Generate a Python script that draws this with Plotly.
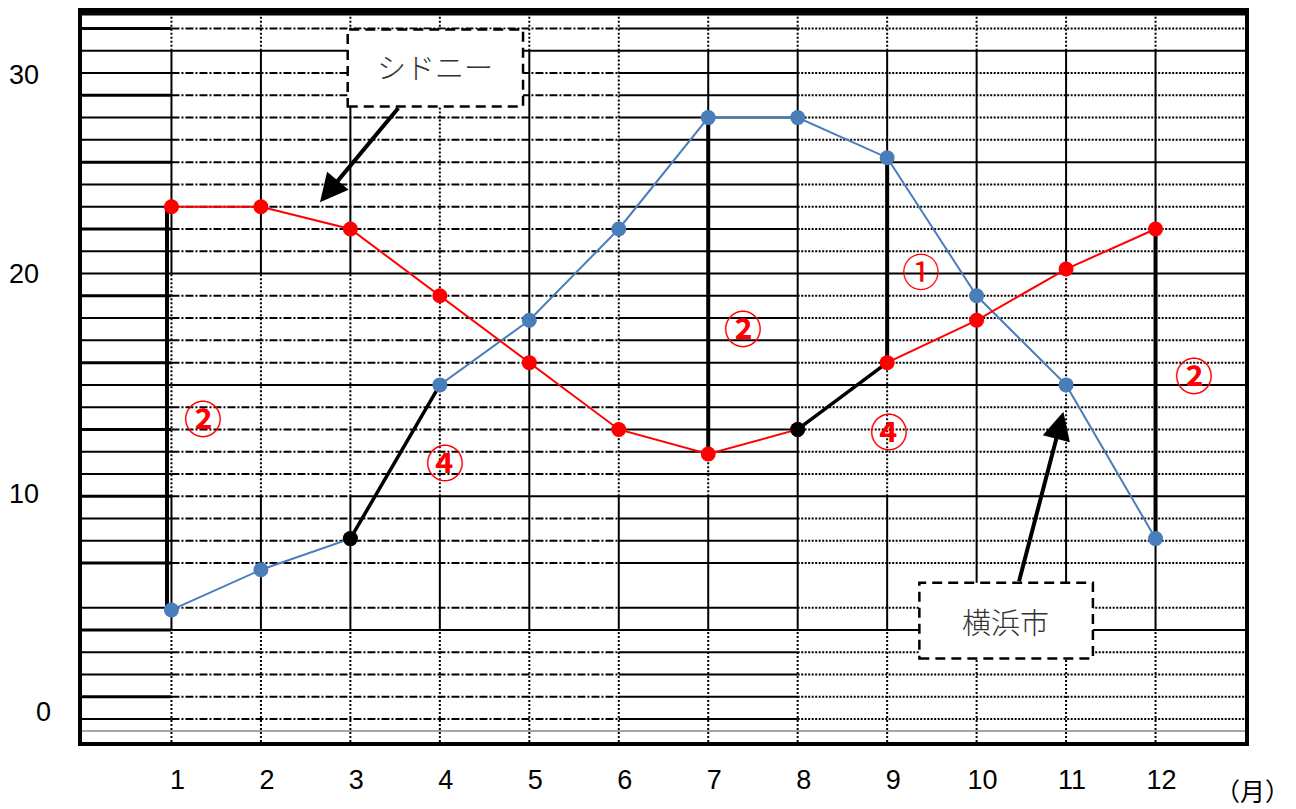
import plotly.graph_objects as go

# ---------------- data ----------------
months = list(range(1, 13))
month_labels = [str(m) for m in months]
sydney = [23.0, 23.0, 22.0, 19.0, 16.0, 13.0, 11.9, 13.0, 16.0, 17.9, 20.2, 22.0]
yokohama = [4.9, 6.7, 8.1, 15.0, 17.9, 22.0, 27.0, 27.0, 25.2, 19.0, 15.0, 8.1]
y_label_text = ["0", "10", "20", "30"]
y_label_val = [0.3, 10.1, 20.0, 28.9]
diff_months = [1, 7, 9, 12]          # months with vertical difference bars
yoko_black_seg = [3, 4]              # black segment on Yokohama line
syd_black_seg = [8, 9]               # black segment on Sydney line
note_texts = ["②", "④", "②", "①", "④", "②"]

# ---------------- styling ----------------
RED = "#ff0000"
BLUE = "#4a7ebb"
DASHDOT = "8px,2px,2px,2px"
DOT = "2px,1.5px"
VDOT = "2px,2px"
XR = [0, 13]
YR = [-1.03, 31.74]
LBL_FONT = "Liberation Sans, Arial, sans-serif"
JP_FONT = "Noto Sans CJK JP, sans-serif"

shapes = []


def hline(v, x0, x1, dash, width, color="black"):
    shapes.append(dict(type="line", xref="x", yref="y", x0=x0, x1=x1, y0=v, y1=v,
                       line=dict(color=color, width=width, dash=dash), layer="below"))


def vline(x, y0, y1, dash, width):
    shapes.append(dict(type="line", xref="x", yref="y", x0=x, x1=x, y0=y0, y1=y1,
                       line=dict(color="black", width=width, dash=dash), layer="below"))


grid_rows = [v for v in range(0, 32) if v != 6]
for v in grid_rows:
    hline(v, 0, 1, "solid", 3 if v % 3 == 1 else 2)
    if v in (30, 20, 15, 4):
        hline(v, 1, 13, "solid", 2)
    elif v == 10:
        hline(v, 1, 3, DASHDOT, 2)
        hline(v, 3, 13, "solid", 2)
    elif v == 25:
        hline(v, 1, 6, DASHDOT, 2)
        hline(v, 6, 13, "solid", 2)
    else:
        hline(v, 1, 6, DASHDOT, 2)
        hline(v, 6, 8, "solid", 2)
        hline(v, 8, 13, DOT, 2)

hline(-0.54, 0, 13, "solid", 1.5, color="#888888")

for m in months:
    vline(m, YR[0], 4, VDOT, 2)
    vline(m, 4, 10, "solid", 2)
    vline(m, 10, 20, "solid" if m in (5, 8, 10) else VDOT, 2)
    vline(m, 20, 30, "solid" if m not in (4, 6) else VDOT, 2)
    vline(m, 30, YR[1], VDOT, 2)

# top frame edge (plot top sits at the figure's top edge)
shapes.append(dict(type="line", xref="paper", yref="paper", x0=0, x1=1, y0=1, y1=1,
                   line=dict(color="black", width=7), layer="above"))

# label boxes
shapes.append(dict(type="rect", xref="x", yref="y", x0=2.97, x1=4.93, y0=27.5, y1=30.95,
                   fillcolor="white", line=dict(color="black", width=2.5, dash="10px,6px"),
                   layer="above"))
shapes.append(dict(type="rect", xref="x", yref="y", x0=9.36, x1=11.30, y0=2.72, y1=6.12,
                   fillcolor="white", line=dict(color="black", width=2.5, dash="10px,6px"),
                   layer="above"))

fig = go.Figure()

# vertical difference bars
dx, dy = [], []
for m in diff_months:
    off = -0.05 if m == 1 else 0.0
    dx += [m + off, m + off, None]
    dy += [sydney[m - 1], yokohama[m - 1], None]
fig.add_trace(go.Scatter(x=dx, y=dy, mode="lines", line=dict(color="black", width=4),
                         hoverinfo="skip", showlegend=False))

# series lines
fig.add_trace(go.Scatter(x=months, y=yokohama, mode="lines", line=dict(color=BLUE, width=2),
                         name="横浜市", showlegend=False))
fig.add_trace(go.Scatter(x=months, y=sydney, mode="lines", line=dict(color=RED, width=2),
                         name="シドニー", showlegend=False))

# black segments
bx = yoko_black_seg + [None] + syd_black_seg
by = [yokohama[m - 1] for m in yoko_black_seg] + [None] + [sydney[m - 1] for m in syd_black_seg]
fig.add_trace(go.Scatter(x=bx, y=by, mode="lines", line=dict(color="black", width=3.5),
                         hoverinfo="skip", showlegend=False))

# markers
fig.add_trace(go.Scatter(x=months, y=yokohama, mode="markers",
                         marker=dict(color=BLUE, size=15), showlegend=False))
fig.add_trace(go.Scatter(x=months, y=sydney, mode="markers",
                         marker=dict(color=RED, size=15), showlegend=False))
fig.add_trace(go.Scatter(x=[yoko_black_seg[0], syd_black_seg[0]],
                         y=[yokohama[yoko_black_seg[0] - 1], sydney[syd_black_seg[0] - 1]],
                         mode="markers", marker=dict(color="black", size=15), showlegend=False))

annotations = []
# y labels
for t, v in zip(y_label_text, y_label_val):
    annotations.append(dict(xref="paper", yref="y", x=-0.0352 if t != "0" else -0.0249, y=v,
                            text=t, showarrow=False, xanchor="right", yanchor="middle",
                            font=dict(family=LBL_FONT, size=27, color="black")))
# unit
annotations.append(dict(xref="paper", yref="paper", x=1.0405, y=0, yshift=-48,
                        text="（月）", showarrow=False, xanchor="right", yanchor="middle",
                        font=dict(family=JP_FONT, size=25, color="black")))
# box texts
annotations.append(dict(xref="x", yref="y", x=3.95, y=29.3, text="シドニー", showarrow=False,
                        font=dict(family=JP_FONT, size=29, color="#333333", weight=300)))
annotations.append(dict(xref="x", yref="y", x=10.32, y=4.42, text="横浜市", showarrow=False,
                        font=dict(family=JP_FONT, size=29, color="#333333", weight=300)))
# arrows
annotations.append(dict(xref="x", yref="y", axref="x", ayref="y", x=2.66, y=23.2, ax=3.55, ay=27.5,
                        text="", showarrow=True, arrowhead=2, arrowsize=1.4, arrowwidth=4,
                        arrowcolor="black"))
annotations.append(dict(xref="x", yref="y", axref="x", ayref="y", x=10.97, y=13.8, ax=10.47, ay=6.12,
                        text="", showarrow=True, arrowhead=2, arrowsize=1.4, arrowwidth=4,
                        arrowcolor="black"))
# circled notes
note_pos = [(1.35, 13.6), (4.06, 11.6), (7.39, 17.6), (9.38, 20.2), (9.02, 13.0), (12.43, 15.5)]
for t, (nx, ny) in zip(note_texts, note_pos):
    annotations.append(dict(xref="x", yref="y", x=nx, y=ny, text=t, showarrow=False,
                            font=dict(family=JP_FONT, size=38, color=RED,
                                      weight=400 if t == "①" else 700)))

fig.update_layout(
    width=1288, height=801,
    margin=dict(l=74, r=51, t=0, b=67),
    paper_bgcolor="white", plot_bgcolor="white",
    shapes=shapes, annotations=annotations,
    showlegend=False, hovermode=False,
    xaxis=dict(range=XR, showgrid=False, zeroline=False, tickmode="array",
               tickvals=months, ticktext=month_labels, ticks="",
               ticklabelshift=6, ticklabelstandoff=11,
               tickfont=dict(family=LBL_FONT, size=27, color="black"),
               showline=True, linecolor="black", linewidth=4, mirror=True),
    yaxis=dict(range=YR, showgrid=False, zeroline=False, showticklabels=False, ticks="",
               showline=True, linecolor="black", linewidth=4, mirror=True),
)

fig.write_html("out.html")
